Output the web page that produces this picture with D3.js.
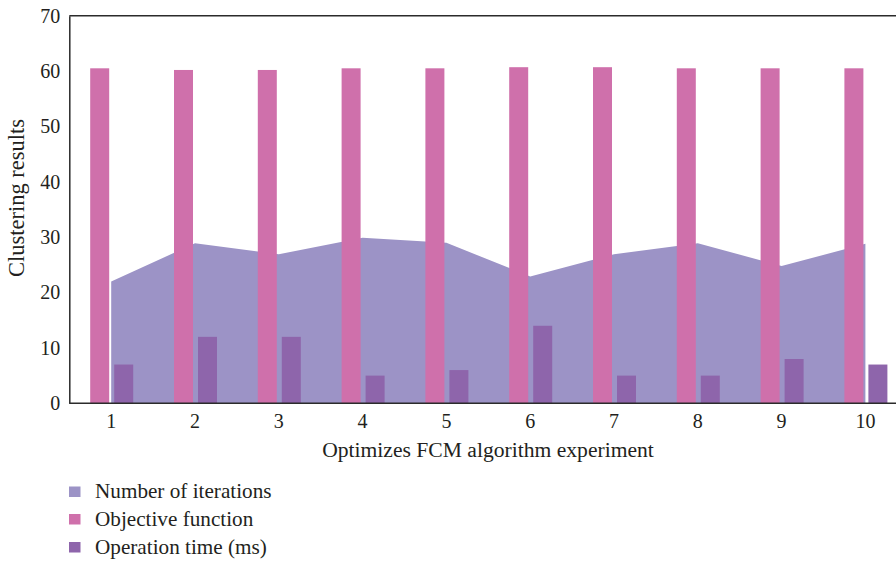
<!DOCTYPE html>
<html>
<head>
<meta charset="utf-8">
<script src="https://cdn.jsdelivr.net/npm/d3@7"></script>
<style>
  html, body { margin: 0; padding: 0; background: #fff; }
  svg { display: block; }
  text { font-family: "Liberation Serif", "DejaVu Serif", serif; fill: #231f20; }
</style>
</head>
<body>
<svg id="chart" width="896" height="562"></svg>
<script>
// ---- data ----
const categories = ["1", "2", "3", "4", "5", "6", "7", "8", "9", "10"];
const iterations = [22, 28.9, 26.9, 29.9, 29, 22.9, 26.9, 28.9, 24.8, 28.8];
const objective = [60.5, 60.2, 60.2, 60.5, 60.5, 60.7, 60.7, 60.5, 60.5, 60.5];
const opTime = [7, 12, 12, 5, 6, 14, 5, 5, 8, 7];
const yTicks = [0, 10, 20, 30, 40, 50, 60, 70];
const seriesNames = ["Number of iterations", "Objective function", "Operation time (ms)"];
const seriesColors = ["#9c93c6", "#cf70ab", "#8e65ab"];

// ---- layout ----
const svg = d3.select("#chart");
const plotLeft = 69.3, plotTop = 15.7, plotBottom = 403.3;
const step = 83.8;

const x = d3.scaleBand().domain(categories).range([plotLeft, plotLeft + step * categories.length]).padding(0);
const sub = d3.scaleBand().domain(["obj", "op"]).range([-21, 22]).paddingInner(5 / 24).paddingOuter(0);
const y = d3.scaleLinear().domain([0, 70]).range([plotBottom, plotTop]);
const cx = d => x(d) + x.bandwidth() / 2;

// area: number of iterations
const area = d3.area()
  .x((d, i) => cx(categories[i]))
  .y0(y(0))
  .y1(d => y(d));
svg.append("path")
  .datum(iterations)
  .attr("d", area)
  .attr("fill", seriesColors[0]);

// bars: objective function
svg.append("g").selectAll("rect")
  .data(objective)
  .join("rect")
  .attr("x", (d, i) => cx(categories[i]) + sub("obj"))
  .attr("width", sub.bandwidth())
  .attr("y", d => y(d))
  .attr("height", d => y(0) - y(d))
  .attr("fill", seriesColors[1]);

// bars: operation time
svg.append("g").selectAll("rect")
  .data(opTime)
  .join("rect")
  .attr("x", (d, i) => cx(categories[i]) + sub("op"))
  .attr("width", sub.bandwidth())
  .attr("y", d => y(d))
  .attr("height", d => y(0) - y(d))
  .attr("fill", seriesColors[2]);

// frame lines
const lineColor = "#2b2b2b";
svg.append("line").attr("x1", plotLeft).attr("x2", 896).attr("y1", plotTop).attr("y2", plotTop)
  .attr("stroke", lineColor).attr("stroke-width", 1.5);

// y axis
const yAxis = svg.append("g")
  .attr("transform", `translate(${plotLeft},0)`)
  .call(d3.axisLeft(y).tickValues(yTicks).tickSize(0).tickPadding(9));
yAxis.select(".domain").attr("stroke", lineColor).attr("stroke-width", 1.5);
yAxis.selectAll("text").style("font-size", "20px").style("font-family", '"Liberation Serif", serif').attr("fill", "#231f20");

// x axis
const xAxis = svg.append("g")
  .attr("transform", `translate(0,${plotBottom})`)
  .call(d3.axisBottom(x).tickSize(0).tickPadding(11));
xAxis.select(".domain").attr("d", `M${plotLeft},0H896`).attr("stroke", lineColor).attr("stroke-width", 1.5);
xAxis.selectAll("text").style("font-size", "20px").style("font-family", '"Liberation Serif", serif').attr("fill", "#231f20");

// axis titles
svg.append("text")
  .attr("x", 488).attr("y", 456.5)
  .attr("text-anchor", "middle")
  .style("font-size", "21.6px")
  .text("Optimizes FCM algorithm experiment");

svg.append("text")
  .attr("transform", "translate(23.5,198) rotate(-90)")
  .attr("text-anchor", "middle")
  .style("font-size", "22.5px")
  .text("Clustering results");

// legend
const legend = svg.append("g");
const rowY = [491.5, 519, 547];
seriesNames.forEach((name, i) => {
  legend.append("rect")
    .attr("x", 69).attr("y", rowY[i] - 5)
    .attr("width", 11.5).attr("height", 10.5)
    .attr("fill", seriesColors[i]);
  legend.append("text")
    .attr("x", 95).attr("y", rowY[i] + 6.5)
    .style("font-size", "21.2px")
    .text(name);
});
</script>
</body>
</html>
